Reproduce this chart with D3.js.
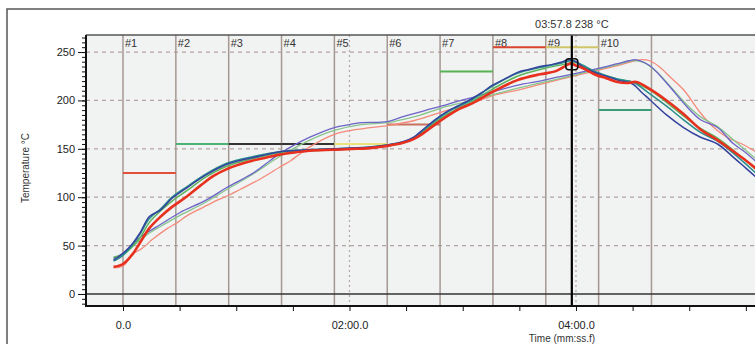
<!doctype html>
<html lang="en">
  <head>
    <meta charset="utf-8">
    <title>profile</title>
    <style>
      body { margin: 0; background: #fff; }
      text { font-family: "Liberation Sans", Arial, sans-serif; fill: #222; }
      .axis text { font-size: 11px; fill: #222; }
      .axis path { display: none; }
      .axis line { stroke: #111; }
    </style>
  </head>
  <body>
  <div class="chart"></div>
  <script src="https://cdnjs.cloudflare.com/ajax/libs/d3/7.8.5/d3.min.js"></script>
  <script>
    // time in seconds, temperature in °C
    const zoneStarts = [0, 28, 56, 84, 112, 140, 168, 196, 224, 252, 280];
    const zoneNames = ['#1', '#2', '#3', '#4', '#5', '#6', '#7', '#8', '#9', '#10'];
    const setpoints = [125, 155, 155, 155, 155, 175, 230, 255, 255, 190];
    const setpointColors = ['#e0503a', '#4cb374', '#333333', '#333333', '#ece27a',
                            '#c8705e', '#55b255', '#d9442e', '#cfc66a', '#3c9c78'];

    const blueA = [[-5,35],[0,42],[5,52],[9,63],[14,80],[20,87],[26,99],[34,110],[44,123],[55,134],[62,138],[69,141],[76,144],[83,147],[90,148],[99,149],[111,150],[124,151],[132,152],[140,154],[148,157],[154,162],[159,170],[166,181],[172,189],[177,194],[185,202],[190,208],[196,216],[203,223],[209,229],[215,232],[221,235],[227,237],[233,240],[236,242],[240,240],[244,234],[251,228],[256,225],[262,221],[270,217],[275,208],[279,201],[288,185],[297,172],[306,162],[315,155],[323,142],[330,130],[337,118]];
    const tealA = [[-5,34],[0,40],[5,51],[9,62],[14,78],[20,88],[26,100],[34,111],[44,124],[55,135],[69,142],[83,147],[99,149],[111,150],[124,151],[140,154],[148,157],[154,161],[159,169],[166,180],[172,188],[177,193],[185,201],[196,215],[209,228],[221,234],[233,239],[238,241],[244,236],[251,229],[262,222],[270,219],[279,207],[288,194],[297,180],[306,167],[315,158],[323,146],[337,122]];
    const greenA = [[-5,38],[0,41],[5,49],[9,58],[14,74],[20,86],[26,96],[34,107],[44,121],[55,132],[69,140],[83,146],[99,148],[111,149],[124,150],[140,153],[148,156],[154,160],[159,168],[166,178],[172,186],[177,191],[185,199],[196,212],[209,225],[221,232],[233,237],[240,239],[246,233],[251,229],[262,222],[270,219],[279,211],[288,198],[297,184],[306,171],[315,161],[323,149],[337,126]];
    const redThick = [[-5,28],[0,31],[5,41],[9,53],[14,68],[20,80],[26,90],[34,101],[41,112],[48,122],[55,129],[62,134],[69,138],[76,141],[83,144],[90,146],[99,148],[111,149],[124,150],[132,151],[140,153],[148,156],[154,160],[159,166],[166,176],[172,184],[177,190],[185,197],[196,209],[209,221],[221,227],[229,230],[233,234],[237,238],[240,236],[244,233],[251,226],[256,223],[262,219],[267,218],[272,219],[279,212],[288,200],[297,186],[306,170],[315,159],[323,148],[330,138],[337,127]];
    const purpleB = [[-5,37],[0,42],[5,51],[10,60],[14,65],[20,72],[30,84],[44,97],[55,110],[69,125],[78,138],[83,145],[89,152],[99,162],[112,172],[120,175],[126,177],[140,178],[148,183],[159,189],[172,196],[177,199],[185,203],[196,209],[212,217],[221,220],[230,224],[240,228],[247,231],[252,233],[262,238],[268,241],[272,242],[279,236],[288,218],[299,193],[306,180],[315,172],[323,156],[330,146],[337,134]];
    const greenB = [[-5,36],[0,40],[5,49],[10,57],[14,63],[20,70],[30,81],[44,95],[55,108],[69,124],[83,142],[99,159],[112,169],[126,175],[140,177],[154,183],[172,194],[185,200],[196,206],[212,214],[230,222],[247,230],[262,237],[270,241],[276,239],[283,229],[292,210],[299,195],[306,183],[315,173],[323,160],[337,137]];
    const salmonB = [[-5,27],[0,29],[5,41],[10,47],[16,57],[23,67],[29,74],[34,81],[42,89],[50,97],[56,102],[62,108],[72,118],[83,131],[89,138],[99,152],[112,165],[124,170],[140,174],[154,179],[172,190],[185,197],[196,205],[212,212],[230,221],[247,229],[262,236],[274,242],[279,241],[284,235],[290,224],[297,211],[306,187],[313,172],[320,162],[328,155],[337,145]];

    const series = [
      {name: 'salmon', data: salmonB, color: '#f58a7a', width: 1.3},
      {name: 'greenB', data: greenB, color: '#86c48a', width: 1.3},
      {name: 'purple', data: purpleB, color: '#6d63c9', width: 1.3},
      {name: 'greenA', data: greenA, color: '#5db35a', width: 1.5},
      {name: 'teal', data: tealA, color: '#2b8f8c', width: 1.6},
      {name: 'blue', data: blueA, color: '#34449e', width: 1.5},
      {name: 'red', data: redThick, color: '#e8301f', width: 2.6},
    ];

    const cursorTime = 237.8;
    const cursorLabel = '03:57.8';
    const cursorTemp = 238;

    const W = 755, H = 344;
    const plotLeft = 86, plotTop = 35, plotBottom = 306, plotRight = 760;

    const x = d3.scaleLinear().domain([-19.6, 337.5]).range([plotLeft, plotRight]);
    const y = d3.scaleLinear().domain([-12.4, 267.6]).range([plotBottom, plotTop]);

    function fmtTime(s) {
      if (s === 0) return '0.0';
      const m = Math.floor(s / 60), sec = s % 60;
      return d3.format('02')(m) + ':' + d3.format('04.1f')(sec);
    }

    const svg = d3.select('.chart').append('svg')
        .attr('width', W)
        .attr('height', H);

    svg.append('clipPath').attr('id', 'plot')
      .append('rect')
        .attr('x', plotLeft).attr('y', plotTop)
        .attr('width', plotRight - plotLeft).attr('height', plotBottom - plotTop);

    // outer frame
    svg.append('path')
        .attr('d', `M7,${H}V9H${W}`)
        .attr('fill', 'none')
        .attr('stroke', '#555')
        .attr('stroke-width', 1.5);

    // plot background
    svg.append('rect')
        .attr('x', plotLeft).attr('y', plotTop)
        .attr('width', W - plotLeft).attr('height', plotBottom - plotTop)
        .attr('fill', '#f1f2f2');

    const plot = svg.append('g').attr('clip-path', 'url(#plot)');

    // horizontal dashed grid
    plot.selectAll('.hgrid')
      .data([50, 100, 150, 200, 250])
      .enter().append('line')
        .attr('x1', plotLeft).attr('x2', plotRight)
        .attr('y1', d => y(d)).attr('y2', d => y(d))
        .attr('stroke', '#b3a4a2')
        .attr('stroke-width', 1.2)
        .attr('stroke-dasharray', '4,4');

    // vertical dotted grid at labelled ticks
    plot.selectAll('.vgrid')
      .data([120, 240])
      .enter().append('line')
        .attr('x1', d => x(d)).attr('x2', d => x(d))
        .attr('y1', plotTop).attr('y2', plotBottom)
        .attr('stroke', '#b9a6a6')
        .attr('stroke-width', 1.2)
        .attr('stroke-dasharray', '2,3');

    // zone boundaries
    plot.selectAll('.zone')
      .data(zoneStarts)
      .enter().append('line')
        .attr('x1', d => x(d)).attr('x2', d => x(d))
        .attr('y1', plotTop).attr('y2', plotBottom)
        .attr('stroke', '#a59893')
        .attr('stroke-width', 1.5);

    plot.selectAll('.zone-label')
      .data(zoneNames)
      .enter().append('text')
        .attr('x', (d, i) => x(zoneStarts[i]) + 2)
        .attr('y', 47)
        .style('font-size', '11px')
        .style('fill', '#333')
        .text(d => d);

    // zone setpoints
    plot.selectAll('.setpoint')
      .data(setpoints)
      .enter().append('line')
        .attr('x1', (d, i) => x(zoneStarts[i]))
        .attr('x2', (d, i) => x(zoneStarts[i + 1]))
        .attr('y1', d => y(d)).attr('y2', d => y(d))
        .attr('stroke', (d, i) => setpointColors[i])
        .attr('stroke-width', 2);

    // zero line
    plot.append('line')
        .attr('x1', plotLeft).attr('x2', plotRight)
        .attr('y1', y(0)).attr('y2', y(0))
        .attr('stroke', '#333')
        .attr('stroke-width', 1.3);

    // temperature curves
    const line = d3.line()
        .x(d => x(d[0]))
        .y(d => y(d[1]))
        .curve(d3.curveCatmullRom.alpha(0.5));

    plot.selectAll('.curve')
      .data(series)
      .enter().append('path')
        .attr('d', d => line(d.data))
        .attr('fill', 'none')
        .attr('stroke', d => d.color)
        .attr('stroke-width', d => d.width)
        .attr('stroke-linejoin', 'round');

    // cursor
    svg.append('line')
        .attr('x1', x(cursorTime)).attr('x2', x(cursorTime))
        .attr('y1', plotTop).attr('y2', plotBottom)
        .attr('stroke', '#000')
        .attr('stroke-width', 2.2);

    svg.append('rect')
        .attr('x', x(cursorTime) - 6).attr('y', y(cursorTemp) - 5)
        .attr('width', 12).attr('height', 11)
        .attr('rx', 3)
        .attr('fill', 'none')
        .attr('stroke', '#111')
        .attr('stroke-width', 1.5);

    svg.append('text')
        .attr('x', x(cursorTime))
        .attr('y', 28)
        .attr('text-anchor', 'middle')
        .style('font-size', '11px')
        .style('fill', '#333')
        .text(cursorLabel + ' ' + cursorTemp + ' °C');

    // plot top border
    svg.append('line')
        .attr('x1', plotLeft).attr('x2', W)
        .attr('y1', plotTop).attr('y2', plotTop)
        .attr('stroke', '#555')
        .attr('stroke-width', 1.5);

    // axes
    const yMinor = d3.range(-10, 266, 5);
    svg.append('g')
        .attr('class', 'axis')
        .attr('transform', `translate(${plotLeft},0)`)
        .call(d3.axisLeft(y).tickValues(yMinor).tickSize(4).tickFormat(''));

    svg.append('g')
        .attr('class', 'axis')
        .attr('transform', `translate(${plotLeft},0)`)
        .call(d3.axisLeft(y).tickValues([0, 50, 100, 150, 200, 250]).tickSize(8).tickPadding(3));

    svg.append('g')
        .attr('class', 'axis')
        .attr('transform', `translate(0,${plotBottom})`)
        .call(d3.axisBottom(x).tickValues(d3.range(0, 331, 30)).tickSize(5).tickPadding(10)
          .tickFormat(d => d % 120 === 0 ? fmtTime(d) : ''));

    svg.append('line')
        .attr('x1', plotLeft).attr('x2', plotLeft)
        .attr('y1', plotTop).attr('y2', plotBottom + 1)
        .attr('stroke', '#111').attr('stroke-width', 2);

    svg.append('line')
        .attr('x1', plotLeft - 1).attr('x2', W)
        .attr('y1', plotBottom).attr('y2', plotBottom)
        .attr('stroke', '#111').attr('stroke-width', 2);

    svg.append('text')
        .attr('transform', 'translate(29,168) rotate(-90)')
        .attr('text-anchor', 'middle')
        .style('font-size', '10px')
        .style('fill', '#333')
        .text('Temperature °C');

    svg.append('text')
        .attr('x', 562)
        .attr('y', 342)
        .attr('text-anchor', 'middle')
        .style('font-size', '10px')
        .style('fill', '#333')
        .text('Time (mm:ss.f)');
  </script>
  </body>
</html>
